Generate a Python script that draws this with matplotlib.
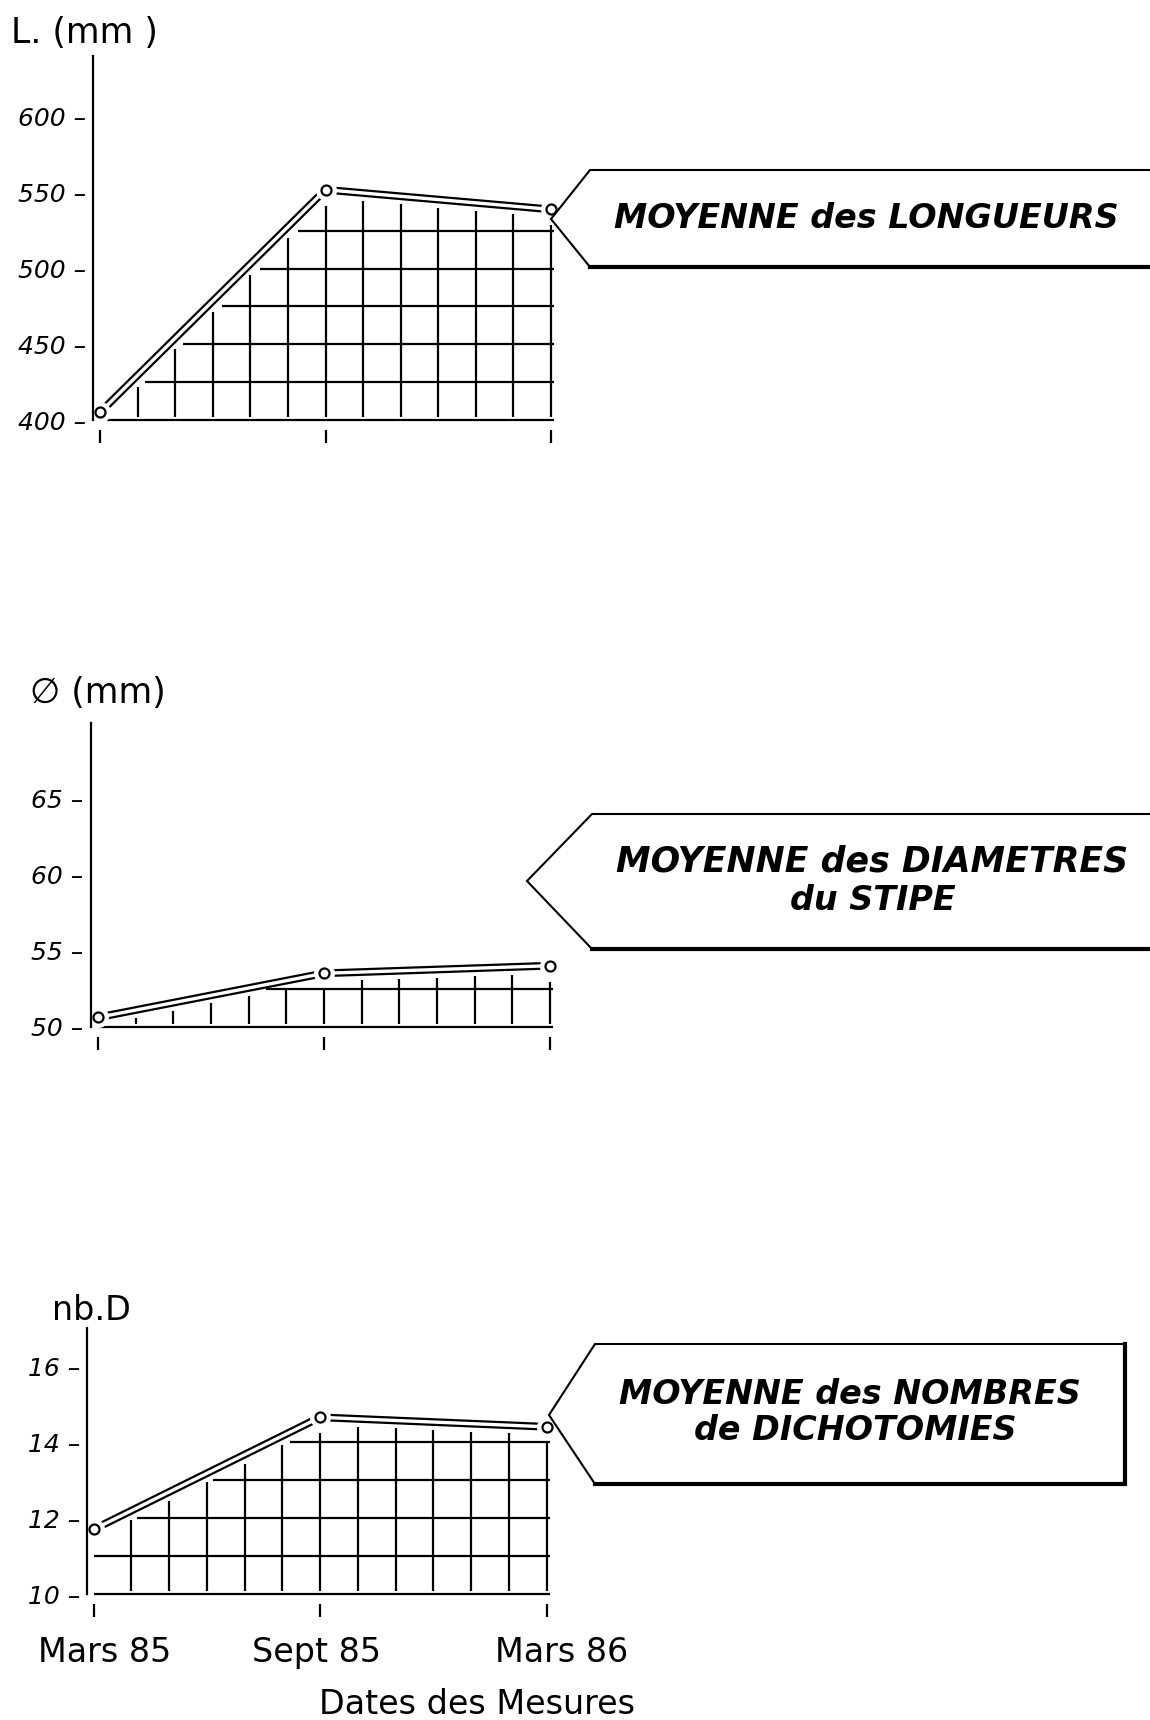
import numpy as np
import matplotlib
matplotlib.use('Agg')
import matplotlib.pyplot as plt

plt.rcParams['font.family'] = ['DejaVu Sans']

# mois comptés depuis Mars 85
mois = [0, 6, 12]
dates = ['Mars 85', 'Sept 85', 'Mars 86']
pos_dates = [0.3, 5.9, 12.4]   # les étiquettes sont un peu décalées des repères

longueurs = [405, 552, 539]
diametres = [50.6, 53.5, 54.0]
dichotomies = [11.7, 14.65, 14.4]

ticks_long = [400, 450, 500, 550, 600]
ticks_diam = [50, 55, 60, 65]
ticks_dicho = [10, 12, 14, 16]

W, H = 1150, 1720
fig = plt.figure(figsize=(W / 100, H / 100), dpi=100)


def pt(p):
    # pixels -> points
    return p * 72 / 100


def panel(spine_x, x0, x12, base_y, ymin, ymax, ppu, valeurs, yticks, pas, labels_x=False):
    ppm = (x12 - x0) / 12
    right = x12 + 60
    top_px = base_y - (ymax - ymin) * ppu
    ax = fig.add_axes([spine_x / W, 1 - (base_y + 10) / H,
                       (right - spine_x) / W, (base_y + 10 - top_px) / H])
    ax.set_xlim((spine_x - x0) / ppm, (right - x0) / ppm)
    ax.set_ylim(ymin - 10 / ppu, ymax)
    ax.patch.set_visible(False)
    for s in ['top', 'right', 'bottom']:
        ax.spines[s].set_visible(False)
    ax.spines['left'].set_bounds(ymin, ymax)
    ax.spines['left'].set_linewidth(1.6)

    ax.set_yticks(yticks)
    ax.set_yticklabels([f'{t} –' for t in yticks], fontstyle='italic', fontsize=18)
    ax.tick_params(axis='y', length=0, pad=5)
    ax.set_xticks(mois)
    ax.set_xticklabels([])
    ax.tick_params(axis='x', which='major', direction='out', length=pt(13), width=1.6)
    if labels_x:
        ax.set_xticks(pos_dates, minor=True)
        ax.set_xticklabels(dates, minor=True)
        ax.tick_params(axis='x', which='minor', length=pt(13), width=0, pad=14, labelsize=24)

    # hachures sous la courbe
    def courbe(m):
        return np.interp(m, mois, valeurs)

    g = 8
    for m in range(1, 13):
        if m in mois:
            gap = 16
        else:
            k = m // 6
            s = (valeurs[k + 1] - valeurs[k]) * ppu / (6 * ppm)
            gap = g * np.sqrt(1 + s ** 2)
        ax.vlines(m, ymin + 3 / ppu, courbe(m) - gap / ppu, color='black', lw=1.6)

    v0, v1 = valeurs[0], valeurs[1]
    s = (v1 - v0) * ppu / (6 * ppm)
    dx = min(10 * np.sqrt(1 + s ** 2) / s, 20) / ppm
    for h in np.arange(ymin, max(valeurs), pas):
        if valeurs[-1] - h < 10 / ppu:
            continue
        m_cross = (h - v0) / (v1 - v0) * 6
        start = max(0, m_cross + dx)
        ax.hlines(h, start, 12.08, color='black', lw=1.6)

    # double trait
    ax.plot(mois, valeurs, color='black', lw=5.6, solid_capstyle='butt', clip_on=False)
    ax.plot(mois, valeurs, color='white', lw=2.4, solid_capstyle='butt', clip_on=False)
    ax.plot(mois, valeurs, 'o', ms=pt(21), mfc='white', mec='none', clip_on=False)
    ax.plot(mois, valeurs, 'o', ms=pt(10), mfc='white', mec='black', mew=1.6, clip_on=False)
    return ax


panel(93, 100, 551, 420, 400, 640, 1.515, longueurs, ticks_long, 25)
panel(90.5, 98, 550, 1026.5, 50, 70, 15.2, diametres, ticks_diam, 2.5)
panel(87, 93.5, 546.5, 1594, 10, 17, 38.0, dichotomies, ticks_dicho, 1, labels_x=True)

# calque en pixels pour les étiquettes
ov = fig.add_axes([0, 0, 1, 1])
ov.set_xlim(0, W)
ov.set_ylim(H, 0)
ov.axis('off')


def fleche(tip, x_left, y_top, y_bot, x_right, ferme=False):
    ov.plot([x_right, x_left, tip[0], x_left], [y_top, y_top, tip[1], y_bot],
            color='black', lw=1.5, solid_joinstyle='miter')
    if ferme:
        ov.plot([x_left, x_right, x_right], [y_bot, y_bot, y_top], color='black', lw=3,
                solid_joinstyle='miter')
    else:
        ov.plot([x_left, x_right], [y_bot, y_bot], color='black', lw=3)


fleche((551, 219), 590, 170, 267, 1160)
fleche((527, 881), 592, 814, 949, 1160)
fleche((549, 1415), 595, 1344, 1484, 1125, ferme=True)

txt = dict(ha='center', va='center', fontsize=24, fontweight='bold', fontstyle='italic')
ov.text(866, 219, 'MOYENNE des LONGUEURS', **txt)
ov.text(872, 862, 'MOYENNE des DIAMETRES', fontsize=25, **{k: v for k, v in txt.items() if k != 'fontsize'})
ov.text(873, 900, 'du STIPE', **txt)
ov.text(850, 1394, 'MOYENNE des NOMBRES', **txt)
ov.text(855, 1431, 'de DICHOTOMIES', **txt)

ov.text(11, 33, 'L. (mm )', ha='left', va='center', fontsize=25)
ov.text(30, 693, '∅ (mm)', ha='left', va='center', fontsize=25)
ov.text(52, 1311, 'nb.D', ha='left', va='center', fontsize=24)
ov.text(477, 1704, 'Dates des Mesures', ha='center', va='center', fontsize=24)

fig.savefig('out.png', dpi=100)
